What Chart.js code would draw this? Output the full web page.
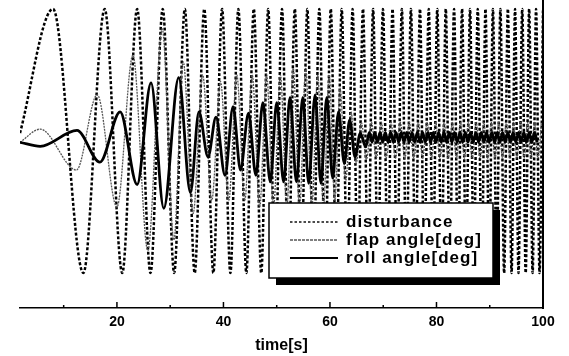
<!DOCTYPE html>
<html><head><meta charset="utf-8">
<script src="https://cdn.jsdelivr.net/npm/chart.js@4.4.1/dist/chart.umd.min.js"></script>
<style>html,body{margin:0;padding:0;background:#fff;overflow:hidden}</style>
</head><body>
<canvas id="c" width="569" height="356"></canvas>
<script>
const seriesNames = ['disturbance', 'flap angle[deg]', 'roll angle[deg]'];
const xTickValues = [20, 40, 60, 80, 100];
const xMinorTicks = [10, 30, 50, 70, 90];
const axisTitle = 'time[s]';

// disturbance: extrema of the chirp
const distT = [1.8, 8.0, 13.7, 17.7, 21.0, 23.8, 26.3, 28.6, 30.75, 32.75, 34.6, 36.4, 38.1, 39.75, 41.3, 42.8, 44.3, 45.7, 47.1, 48.4,
  49.7, 51.0, 52.2, 53.4, 54.6, 55.75, 56.9, 58.0, 59.1, 60.15, 61.2, 62.2, 63.25, 64.25, 65.2, 66.2, 67.15, 68.1, 69.0, 69.95,
  70.85, 71.75, 72.6, 73.5, 74.35, 75.2, 76.05, 76.9, 77.7, 78.55, 79.35, 80.15, 80.95, 81.75, 82.5, 83.3, 84.05, 84.8, 85.55, 86.3,
  87.0, 87.75, 88.5, 89.2, 89.9, 90.6, 91.3, 92.0, 92.7, 93.4, 94.1, 94.75, 95.4, 96.1, 96.75, 97.4, 98.05, 98.7, 99.35, 100.0];
const distV = [0.06,
  1, -1, 1, -1, 1, -1, 1, -1, 1, -1,
  1, -1, 1, -1, 1, -1, 1, -1, 1, -1,
  1, -1, 1, -1, 1, -1, 1, -1, 1, -1,
  1, -1, 1, -1, 1, -1, 1, -1, 1, -1,
  1, -1, 1, -1, 1, -1, 1, -1, 1, -1,
  1, -1, 1, -1, 1, -1, 1, -1, 1, -1,
  1, -1, 1, -1, 1, -1, 1, -1, 1, -1,
  1, -1, 1, -1, 1, -1, 1, -1, 1];

// flap angle
const flapT = [1.8, 5.6, 12.4, 16.3, 20.0, 23.0, 25.8, 28.5, 30.7,
  32.45, 34.3, 36.1, 37.8, 39.45, 41.0, 42.5, 44.0, 45.4, 46.8,
  48.1, 49.4, 50.7, 51.9, 53.1, 54.3, 55.45, 56.6, 57.7, 58.8,
  59.85, 60.9, 61.9, 62.95, 63.95, 64.9, 65.9, 66.85,
  67.8, 68.7, 69.65, 70.55, 71.45, 72.3, 73.2, 74.05, 74.9, 75.75, 76.6, 77.4, 78.25, 79.05, 79.85, 80.65, 81.45, 82.2, 83.0, 83.75,
  84.5, 85.25, 86.0, 86.7, 87.45, 88.2, 88.9, 89.6, 90.3, 91.0, 91.7, 92.4, 93.1, 93.8, 94.45, 95.1, 95.8, 96.45, 97.1, 97.75, 98.4, 99.05, 99.7];
const flapV = [-0.01, 0.09, -0.22, 0.35, -0.5, 0.65, -0.83, 0.85, -0.75,
  0.6, -0.55, 0.5, -0.45, 0.45, -0.45, 0.5, -0.45, 0.5, -0.5,
  0.5, -0.5, 0.5, -0.5, 0.55, -0.5, 0.55, -0.5, 0.5, -0.5,
  0.5, -0.45, 0.4, -0.3, 0.22, -0.17, 0.14, -0.14,
  0.14, -0.13, 0.14, -0.13, 0.14, -0.13, 0.14, -0.13, 0.14, -0.13, 0.14, -0.13, 0.14, -0.13, 0.14, -0.13, 0.14, -0.13, 0.14, -0.13,
  0.14, -0.13, 0.14, -0.13, 0.14, -0.13, 0.14, -0.13, 0.14, -0.13, 0.14, -0.13, 0.14, -0.13, 0.14, -0.13, 0.14, -0.13, 0.14, -0.13, 0.14, -0.13, 0.14];

// roll angle
const rollT = [1.8, 5.6, 12.5, 16.8, 20.6, 23.8, 26.4, 28.8, 31.6, 33.8, 35.4, 37.1, 38.6, 40.3,
  41.8, 43.2, 44.7, 46.1, 47.4, 48.8, 50.0, 51.3, 52.5, 53.7, 54.9, 56.0, 57.2, 58.3, 59.4, 60.5, 61.6, 62.7, 63.7, 64.7, 65.7, 66.7,
  67.4, 67.9, 68.4, 68.9, 69.4, 69.9, 70.4, 70.9, 71.4, 71.9, 72.4, 72.9, 73.4, 73.9, 74.4, 74.9, 75.4, 75.9, 76.4, 76.9, 77.4, 77.9,
  78.4, 78.9, 79.4, 79.9, 80.4, 80.9, 81.4, 81.9, 82.4, 82.9, 83.4, 83.9, 84.4, 84.9, 85.4, 85.9, 86.4, 86.9, 87.4, 87.9, 88.4, 88.9,
  89.4, 89.9, 90.4, 90.9, 91.4, 91.9, 92.4, 92.9, 93.4, 93.9, 94.4, 94.9, 95.4, 95.9, 96.4, 96.9, 97.4, 97.9, 98.4, 98.9, 99.4, 99.9];
const rollV = [-0.01, -0.04, 0.08, -0.16, 0.22, -0.33, 0.44, -0.51, 0.48, -0.39, 0.22, -0.12, 0.18, -0.26,
  0.26, -0.22, 0.21, -0.26, 0.29, -0.31, 0.29, -0.31, 0.33, -0.31, 0.33, -0.32, 0.35, -0.32, 0.33, -0.28, 0.22, -0.17, 0.16, -0.12, 0.06, -0.045,
  0.065, -0.01, 0.065, -0.01, 0.065, -0.01, 0.065, -0.01, 0.065, -0.01, 0.065, -0.01, 0.065, -0.01, 0.065, -0.01, 0.065, -0.01, 0.065, -0.01, 0.065, -0.01,
  0.065, -0.01, 0.065, -0.01, 0.065, -0.01, 0.065, -0.01, 0.065, -0.01, 0.065, -0.01, 0.065, -0.01, 0.065, -0.01, 0.065, -0.01, 0.065, -0.01,
  0.065, -0.01, 0.065, -0.01, 0.065, -0.01, 0.065, -0.01, 0.065, -0.01, 0.065, -0.01, 0.065, -0.01, 0.065, -0.01, 0.065, -0.01, 0.065, -0.01, 0.065, -0.01];

function pts(t, v) { return t.map((x, i) => ({ x: x, y: v[i] })); }

const FONT = '"Liberation Sans", Arial, sans-serif';

const decor = {
  id: 'decor',
  afterDatasetsDraw(chart) {
    const { ctx, chartArea: a, scales: { x } } = chart;
    ctx.save();
    ctx.strokeStyle = '#000';
    ctx.lineWidth = 2;
    ctx.setLineDash([]);
    ctx.beginPath(); ctx.moveTo(a.right, a.top); ctx.lineTo(a.right, a.bottom + 1); ctx.stroke();
    ctx.lineWidth = 1.5;
    xTickValues.forEach(v => {
      if (v >= 100) return;
      const px = x.getPixelForValue(v);
      ctx.beginPath(); ctx.moveTo(px, a.bottom); ctx.lineTo(px, a.bottom - 6); ctx.stroke();
    });
    xMinorTicks.forEach(v => {
      const px = x.getPixelForValue(v);
      ctx.beginPath(); ctx.moveTo(px, a.bottom); ctx.lineTo(px, a.bottom - 3); ctx.stroke();
    });
    // legend box
    const bx = 269, by = 203, bw = 224, bh = 75;
    ctx.fillStyle = '#000';
    ctx.fillRect(bx + 7, by + 7, bw, bh);
    ctx.fillStyle = '#fff';
    ctx.fillRect(bx, by, bw, bh);
    ctx.lineWidth = 1.5;
    ctx.strokeRect(bx, by, bw, bh);
    const rows = [222, 240, 258];
    const sampleStyles = [
      { color: '#111', width: 1.6, dash: [2.5, 2] },
      { color: '#555', width: 1.6, dash: [3, 1] },
      { color: '#000', width: 1.8, dash: [] }
    ];
    ctx.font = 'bold 17px ' + FONT;
    try { ctx.letterSpacing = '1px'; } catch (e) {}
    ctx.textBaseline = 'middle';
    ctx.textAlign = 'left';
    rows.forEach((yy, i) => {
      const s = sampleStyles[i];
      ctx.strokeStyle = s.color; ctx.lineWidth = s.width; ctx.setLineDash(s.dash);
      ctx.beginPath(); ctx.moveTo(290, yy); ctx.lineTo(338, yy); ctx.stroke();
      ctx.fillStyle = '#000';
      ctx.fillText(chart.data.datasets[i].label, 346, yy);
    });
    ctx.restore();
  }
};

new Chart(document.getElementById('c'), {
  type: 'line',
  data: {
    datasets: [
      { label: seriesNames[0], data: pts(distT, distV), borderColor: '#000', borderWidth: 2.5, borderDash: [3, 2],
        pointRadius: 0, cubicInterpolationMode: 'monotone', fill: false, order: 2 },
      { label: seriesNames[1], data: pts(flapT, flapV), borderColor: '#555', borderWidth: 1.3, borderDash: [2, 1],
        pointRadius: 0, cubicInterpolationMode: 'monotone', fill: false, order: 1 },
      { label: seriesNames[2], data: pts(rollT, rollV), borderColor: '#000', borderWidth: 2.8,
        pointRadius: 0, cubicInterpolationMode: 'monotone', fill: false, order: 0 }
    ]
  },
  options: {
    responsive: false,
    animation: false,
    devicePixelRatio: 1,
    layout: { padding: { left: 20, right: 26, top: 0, bottom: 0 } },
    plugins: { legend: { display: false }, tooltip: { enabled: false } },
    scales: {
      x: {
        type: 'linear', min: 1.8, max: 100,
        afterBuildTicks: (s) => { s.ticks = xTickValues.map(v => ({ value: v })); },
        afterFit: (s) => { s.height = 48; },
        grid: { drawOnChartArea: false, drawTicks: false },
        border: { display: true, color: '#000', width: 1.5 },
        ticks: { padding: 6, color: '#000', maxRotation: 0, autoSkip: false,
          font: { family: FONT, size: 14, weight: 'bold' } },
        title: { display: true, text: axisTitle, color: '#000', padding: { top: 0, bottom: 1 },
          font: { family: FONT, size: 16, weight: 'bold' } }
      },
      y: { display: false, min: -1.265, max: 1.068 }
    }
  },
  plugins: [decor]
});
</script>
</body></html>
